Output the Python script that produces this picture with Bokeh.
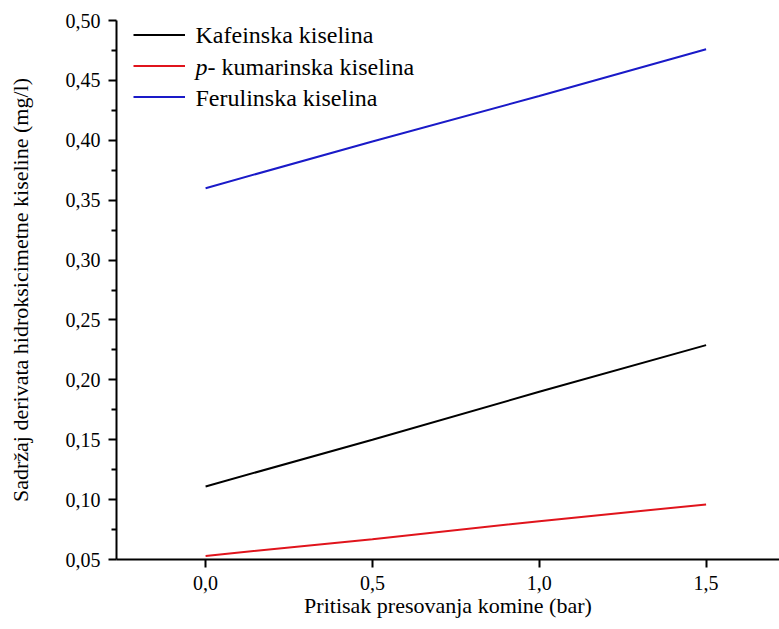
from bokeh.plotting import figure
from bokeh.models import Range1d, FixedTicker, Legend, LegendItem, Label
from bokeh.embed import file_html
from bokeh.resources import INLINE

pressure = [0.0, 0.5, 1.0, 1.5]
kafeinska = [0.111, 0.150, 0.190, 0.229]
kumarinska = [0.053, 0.067, 0.082, 0.096]
ferulinska = [0.360, 0.399, 0.437, 0.476]

x_ticks = [0.0, 0.5, 1.0, 1.5]
x_tick_labels = ["0,0", "0,5", "1,0", "1,5"]
y_ticks = [0.05, 0.10, 0.15, 0.20, 0.25, 0.30, 0.35, 0.40, 0.45, 0.50]
y_tick_labels = ["0,05", "0,10", "0,15", "0,20", "0,25", "0,30", "0,35", "0,40", "0,45", "0,50"]
y_minor = [0.075, 0.125, 0.175, 0.225, 0.275, 0.325, 0.375, 0.425, 0.475]

x_title = "Pritisak presovanja komine (bar)"
y_title = "Sadržaj derivata hidroksicimetne kiseline (mg/l)"
series_names = ["Kafeinska kiselina", "- kumarinska kiselina", "Ferulinska kiselina"]
series_colors = ["black", "#e0141c", "#1a1ac8"]

FONT = "Liberation Serif"
X0, X1, Y0, Y1 = -0.267, 1.72, 0.05, 0.50

p = figure(width=779, height=629, output_backend="svg", toolbar_location=None,
           x_range=Range1d(X0, X1), y_range=Range1d(Y0, Y1),
           min_border_left=116, min_border_right=0, min_border_top=20, min_border_bottom=70)
p.outline_line_color = None
p.grid.visible = False
p.background_fill_color = "white"
p.border_fill_color = "white"

r1 = p.line(pressure, kafeinska, line_color=series_colors[0], line_width=2)
r2 = p.line(pressure, kumarinska, line_color=series_colors[1], line_width=2)
r3 = p.line(pressure, ferulinska, line_color=series_colors[2], line_width=2)

p.axis.axis_line_width = 2
p.axis.axis_line_color = "black"
p.axis.major_tick_line_width = 2
p.axis.minor_tick_line_width = 2
p.axis.major_tick_out = 8
p.axis.major_tick_in = 0
p.axis.minor_tick_out = 5
p.axis.minor_tick_in = 0
p.axis.major_label_text_font = FONT
p.axis.major_label_text_font_size = "20px"
p.axis.major_label_text_color = "black"
p.axis.axis_label_text_font = FONT
p.axis.axis_label_text_font_size = "22px"
p.axis.axis_label_text_font_style = "normal"
p.axis.axis_label_text_color = "black"

p.xaxis.ticker = FixedTicker(ticks=x_ticks, minor_ticks=[])
p.xaxis.major_label_overrides = dict(zip(x_ticks, x_tick_labels))
p.yaxis.ticker = FixedTicker(ticks=y_ticks, minor_ticks=y_minor)
p.yaxis.major_label_overrides = dict(zip(y_ticks, y_tick_labels))
p.xaxis.axis_label = x_title
p.yaxis.axis_label = y_title
p.xaxis.major_label_standoff = 8
p.yaxis.major_label_standoff = 8
p.xaxis.axis_label_standoff = 0
p.yaxis.axis_label_standoff = 30

# legend: glyphs from Bokeh legend, texts as serif labels (italic p)
legend = Legend(items=[
    LegendItem(label=" ", renderers=[r1]),
    LegendItem(label=" ", renderers=[r2]),
    LegendItem(label=" ", renderers=[r3]),
], location=(17, 447))
legend.border_line_color = None
legend.background_fill_alpha = 0
legend.label_text_font_size = "10px"
legend.glyph_width = 52
legend.label_standoff = 0
legend.spacing = 0
legend.padding = 0
legend.margin = 0
legend.label_height = 31
legend.glyph_height = 31
p.add_layout(legend)

row_offsets = [-14, -46, -77]
p.add_layout(Label(x=X0, y=Y1, text=series_names[0], x_offset=79, y_offset=row_offsets[0],
                   text_baseline="middle", text_font=FONT, text_font_size="24px", text_color="black"))
p.add_layout(Label(x=X0, y=Y1, text="p", x_offset=79, y_offset=row_offsets[1],
                   text_baseline="middle", text_font=FONT, text_font_size="24px",
                   text_font_style="italic", text_color="black"))
p.add_layout(Label(x=X0, y=Y1, text=series_names[1], x_offset=91, y_offset=row_offsets[1],
                   text_baseline="middle", text_font=FONT, text_font_size="24px", text_color="black"))
p.add_layout(Label(x=X0, y=Y1, text=series_names[2], x_offset=79, y_offset=row_offsets[2],
                   text_baseline="middle", text_font=FONT, text_font_size="24px", text_color="black"))

open("out.html", "w").write(file_html(p, INLINE))
